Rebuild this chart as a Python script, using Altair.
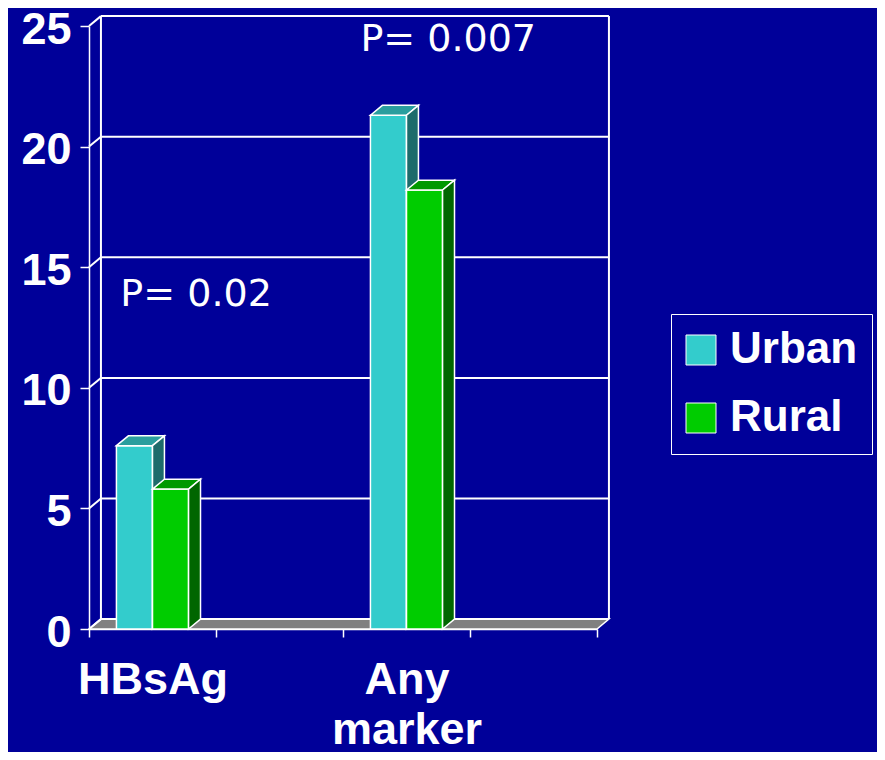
import altair as alt
import pandas as pd

# ---------------- data ----------------
categories = ["HBsAg", "", "Any marker", ""]
series = ["Urban", "Rural"]
urban_values = [7.6, None, 21.3, None]
rural_values = [5.8, None, 18.2, None]
y_ticks = [0, 5, 10, 15, 20, 25]

front_colors = ["#33CCCC", "#00CC00"]
top_colors = ["#2A9E9E", "#009900"]
side_colors = ["#1D6B6B", "#006600"]

annotations = ["P= 0.02", "P= 0.007"]
annotation_x = [0.247, 2.137]
annotation_y = [13.4, 23.95]

# ---------------- style constants ----------------
BG = "#000099"
FLOOR = "#808080"
DX = 0.094      # depth offset (x, category units)
DY = 0.41       # depth offset (y, value units)
BAR_W = 0.284   # bar width in category units
N = len(categories)
Y_MAX = 25
W, H = 508, 603
LABEL_FONT = "Liberation Sans"

values_by_series = {"Urban": urban_values, "Rural": rural_values}

# ---------------- derived tables ----------------
front_rows, face_rows = [], []
for si, s in enumerate(series):
    for ci, v in enumerate(values_by_series[s]):
        if v is None:
            continue
        center = ci + 0.5
        xl = center - BAR_W if si == 0 else center
        xr = xl + BAR_W
        bid = f"{s}-{ci}"
        front_rows.append(dict(series=s, x=xl, x2=xr, y=v, y2=0))
        # top face
        for x, y, y2 in [(xl, v, v), (xl + DX, v + DY, v), (xr, v + DY, v), (xr + DX, v + DY, v + DY)]:
            face_rows.append(dict(series=s, bar=bid, face="top", x=x, y=y, y2=y2))
        # side face
        for x, y, y2 in [(xr, v, 0), (xr + DX, v + DY, DY)]:
            face_rows.append(dict(series=s, bar=bid, face="side", x=x, y=y, y2=y2))

front_df = pd.DataFrame(front_rows)
face_df = pd.DataFrame(face_rows)

floor_df = pd.DataFrame(dict(x=[0, DX, N, N + DX], y=[0, DY, DY, DY], y2=[0, 0, 0, DY]))
grid_df = pd.DataFrame(dict(x=[DX] * len(y_ticks), x2=[N + DX] * len(y_ticks), y=[t + DY for t in y_ticks]))
conn_df = pd.DataFrame(dict(x=[0] * len(y_ticks), x2=[DX] * len(y_ticks), y=y_ticks, y2=[t + DY for t in y_ticks]))
vert_df = pd.DataFrame(dict(x=[DX, N + DX], y=[DY, DY], y2=[Y_MAX + DY, Y_MAX + DY]))
ann_df = pd.DataFrame(dict(text=annotations, x=annotation_x, y=annotation_y))

# ---------------- scales / axes ----------------
xs = alt.Scale(domain=[0, N], nice=False, zero=False)
ys = alt.Scale(domain=[0, Y_MAX], nice=False, zero=True)

cats_js = "[" + ",".join("'" + c + "'" for c in categories) + "]"
x_axis = alt.Axis(
    values=list(range(N + 1)), title=None, grid=False,
    labelExpr=f"split({cats_js}[datum.value] || '', ' ')",
    labelOffset=W / N / 2, labelAlign="center", labelBaseline="top",
    labelPadding=20, labelLineHeight=50, labelOverlap=False, labelFlush=False,
    labelFont=LABEL_FONT, labelFontSize=45, labelFontWeight="bold", labelColor="white",
    tickSize=8, tickColor="white", tickWidth=1.5,
    domainColor="white", domainWidth=1.5,
)
y_axis = alt.Axis(
    values=y_ticks, title=None, grid=False,
    labelPadding=9, labelOffset=3, labelOverlap=False, labelFlush=False,
    labelFont=LABEL_FONT, labelFontSize=45, labelFontWeight="bold", labelColor="white",
    tickSize=9, tickColor="white", tickWidth=1.5,
    domainColor="white", domainWidth=1.5,
)


def X(field="x"):
    return alt.X(f"{field}:Q", scale=xs, axis=x_axis)


def Y(field="y"):
    return alt.Y(f"{field}:Q", scale=ys, axis=y_axis)


floor = alt.Chart(floor_df).mark_area(
    orient="vertical", fill=FLOOR, stroke="white", strokeWidth=1.5
).encode(x=X(), y=Y(), y2="y2:Q")

grid = alt.Chart(grid_df).mark_rule(color="white", strokeWidth=2).encode(
    x=X(), x2="x2:Q", y=Y()
)
conn = alt.Chart(conn_df).mark_rule(color="white", strokeWidth=2).encode(
    x=X(), x2="x2:Q", y=Y(), y2="y2:Q"
)
verts = alt.Chart(vert_df).mark_rule(color="white", strokeWidth=2).encode(
    x=X(), y=Y(), y2="y2:Q"
)

fill_enc = alt.Fill(
    "series:N",
    scale=alt.Scale(domain=series, range=front_colors),
    legend=alt.Legend(
        title=None, orient="none", legendX=582, legendY=288, direction="vertical",
        symbolType="square", symbolSize=900, symbolStrokeColor="white", symbolStrokeWidth=1,
        symbolOffset=-6,
        labelFont=LABEL_FONT, labelFontSize=44, labelFontWeight="bold", labelColor="white",
        labelOffset=7, rowPadding=24, padding=14, strokeColor="white",
        labelLimit=300,
    ),
)

bar_layers = []
for si, s in enumerate(series):
    front = alt.Chart(front_df).transform_filter(alt.datum.series == s).mark_rect(
        stroke="white", strokeWidth=1.5
    ).encode(x=X(), x2="x2:Q", y=Y(), y2="y2:Q", fill=fill_enc)
    top = alt.Chart(face_df).transform_filter(
        (alt.datum.series == s) & (alt.datum.face == "top")
    ).mark_area(orient="vertical", stroke="white", strokeWidth=1.5, fill=top_colors[si]).encode(
        x=X(), y=Y(), y2="y2:Q", detail="bar:N"
    )
    side = alt.Chart(face_df).transform_filter(
        (alt.datum.series == s) & (alt.datum.face == "side")
    ).mark_area(orient="vertical", stroke="white", strokeWidth=1.5, fill=side_colors[si]).encode(
        x=X(), y=Y(), y2="y2:Q", detail="bar:N"
    )
    bar_layers += [front, top, side]

ann = alt.Chart(ann_df).mark_text(
    align="left", baseline="alphabetic", font="DejaVu Sans", fontSize=38, color="white"
).encode(x=X(), y=Y(), text="text:N")

chart = alt.layer(floor, grid, conn, verts, *bar_layers, ann).properties(
    width=W, height=H,
    padding={"left": 81, "top": 18, "right": 280, "bottom": 123},
    autosize=alt.AutoSizeParams(type="none"),
).configure(background=BG).configure_view(stroke=None)

chart.save("out.html", embed_options={"renderer": "svg", "actions": False})
